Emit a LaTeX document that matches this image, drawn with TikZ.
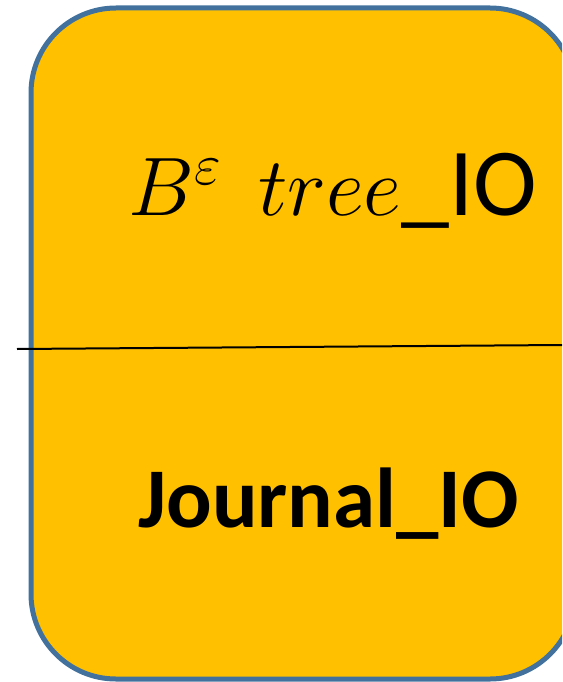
\documentclass[tikz,border=0pt]{standalone}
\usepackage{fix-cm}
\usepackage{fontspec}
\setmainfont{Carlito}
\usepackage{tikz}
\definecolor{boxamber}{RGB}{255,192,0}
\definecolor{boxedge}{RGB}{65,113,156}
\tikzset{
  iolabel/.style={anchor=base west, inner sep=0pt,
    font=\fontsize{96}{110}\selectfont}
}

\begin{document}
\begin{tikzpicture}[x=1pt,y=-1pt]
  \useasboundingbox (0,0) rectangle (562,682);
  \clip (0,0) rectangle (562,682);

  % The rounded box runs past the right and bottom edges.
  \draw[boxedge, fill=boxamber, line width=5pt, rounded corners=85pt]
    (31,8) rectangle (575,679);

  % Divider, slightly tilted.
  \draw[line width=2pt] (17,349) -- (562,345);

  \node[iolabel] (treeio) at (128,215)
    {{\fontsize{83}{96}\selectfont$B^{\varepsilon}\;\,tree$}\_IO};
  \node[iolabel, font=\fontsize{85}{100}\selectfont\bfseries] (journalio)
    at (138,527) {Journal\_IO};
\end{tikzpicture}
\end{document}
